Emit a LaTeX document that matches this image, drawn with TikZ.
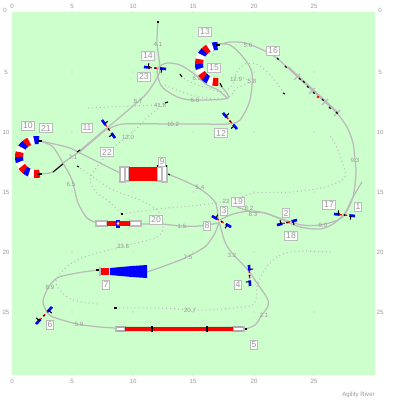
\documentclass[tikz,border=0pt]{standalone}
\usepackage{fontspec}
\setmainfont{Liberation Sans}
\usetikzlibrary{calc}
\definecolor{bg}{HTML}{CCFFCC}
\definecolor{trk}{HTML}{BBBBBB}
\definecolor{txtg}{HTML}{999999}
\tikzset{
 x=0.75pt,y=-0.75pt,
 track/.style={draw=trk,line width=0.95pt,line join=round},
 dots/.style={draw=trk,line width=0.8pt,dash pattern=on 0.75pt off 2.2pt},
 tag/.style={draw=trk,line width=0.8pt,fill=white,text=txtg,font=\fontsize{6.5}{6.5}\selectfont,minimum height=6.5pt,inner xsep=1pt,inner ysep=0.3pt},
 num/.style={text=txtg,font=\fontsize{4.6}{5}\selectfont,inner sep=0pt},
 axn/.style={text=txtg,font=\fontsize{4.6}{5}\selectfont,inner sep=0pt},
 tick/.style={black,line width=0.8pt},
 whitebox/.style={draw=trk,line width=0.8pt,fill=white},
}
\newcommand{\qmag}[4]{%
 \coordinate (qa) at (#1,#2); \coordinate (qb) at (#3,#4);
 \draw[red,line width=1pt,dash pattern=on 2pt off 2pt] (qa)--(qb);
 \draw[blue,line width=2pt] (qa)--($(qa)!0.27!(qb)$);
 \draw[blue,line width=2pt] (qb)--($(qb)!0.27!(qa)$);
 \draw[tick] ($(qa)!0.2!(qb)$)--($($(qa)!0.2!(qb)$)!3pt!90:(qb)$);
 \draw[tick] ($(qb)!0.2!(qa)$)--($($(qb)!0.2!(qa)$)!3pt!90:(qa)$);
 \fill[black] ($(qa)!0.5!(qb)$) circle (0.75pt);
}
\newcommand{\ringmag}[5]{%
 \foreach \i [evaluate=\i as \aa using {#4+(#5-#4)*\i/12},evaluate=\i as \ab using {#4+(#5-#4)*(\i+1.15)/12},
   evaluate=\i as \m using {int(mod(\i,3))}] in {0,...,11}{%
  \ifnum\m=0 \def\cc{blue}\else\ifnum\m=1 \def\cc{white}\else\def\cc{red}\fi\fi
  \draw[\cc,line width=6pt] ({#1+#3*cos(\aa)},{#2+#3*sin(\aa)})--({#1+#3*cos((\aa+\ab)/2)},{#2+#3*sin((\aa+\ab)/2)})--({#1+#3*cos(\ab)},{#2+#3*sin(\ab)});
 }}
\begin{document}
\begin{tikzpicture}
\useasboundingbox (0,0) rectangle (400,400);
\fill[white] (0,0) rectangle (400,400);
\fill[bg] (12,12) rectangle (375,375);
% grid marks
\foreach \x in {72,133,193,254,314}{
 \foreach \y in {72,132,192,252,312}{\fill[trk] (\x,\y) circle (0.4pt);}
 \fill[trk] (\x,12) circle (0.4pt); \fill[trk] (\x,375) circle (0.4pt);
}
% axes
\foreach \x/\t in {12/0,72/5,133/10,193/15,254/20,314/25}{
 \node[axn] (top\t) at (\x,6) {\t};
 \node[axn] (bot\t) at (\x,381) {\t};
}
\foreach \y/\t in {72/5,132/10,192/15,252/20,312/25}{
 \node[axn] (lef\t) at (6,\y) {\t};
 \node[axn] (rig\t) at (380,\y) {\t};
}
\node[axn] (rig0) at (380,10) {0};
\node[axn] (lef0) at (5,10) {0};
\node[axn,anchor=east] (agility) at (375,395) {Agility River};
% dotted tracks
\draw[dots] (88,108) -- (133,106) -- (157,105) -- (168,102);
\draw[dots] plot[smooth,tension=.6] coordinates {(168,102)(150,115)(133,132)(113,148)(97,167)(90,180)(97,193)(107,200)(122,214)};
\draw[dots] plot[smooth,tension=.6] coordinates {(122,214)(157,209)(200,205)(233,200)(255,193)(293,192)(325,187)(342,180)(345,172)(338,150)(330,135)};
\draw[dots] plot[smooth,tension=.6] coordinates {(77,166)(93,177)(113,190)(140,200)(157,210)(163,223)(157,237)(120,247)(77,260)(57,278)(60,290)(73,300)(98,304)};
\draw[dots] plot[smooth,tension=.6] coordinates {(115,308)(160,308)(200,310)(243,307)(255,302)(258,283)(270,263)(290,252)(333,252)};
\draw[dots] plot[smooth,tension=.6] coordinates {(181,76)(190,82)(207,88)(222,92)(232,85)(237,72)(245,64)(258,65)(272,77)(284,93)};
\draw[dots] plot[smooth,tension=.6] coordinates {(165,85)(185,93)(205,98)(227,98)(237,88)(248,83)(245,78)(237,78)};
% solid tracks
\draw[track] plot[smooth,tension=.5] coordinates {(245,329)(255,325)(262,315)(268,306)(267,298)(255,280)(248,270)(232,253)(225,242)(220,225)(219,222)};
\draw[track] plot[smooth,tension=.5] coordinates {(219,222)(218,225)(215,233)(207,245)(200,250)(185,258)(167,265)(147,272)};
\draw[track] plot[smooth,tension=.5] coordinates {(98,270)(77,273)(57,278)(47,290)(43,302)(47,312)(53,317)(77,324)(100,327)(116,328)};
\draw[track] plot[smooth,tension=.5] coordinates {(220,220)(233,214)(250,211)(265,213)(282,219)(302,225)(320,225)(338,220)(345,214)(353,197)(356,173)(355,160)(353,143)(347,127)(337,113)};
\draw[track] (337,113)--(277,58);
\draw[track,line width=1.5pt] (288,67)--(338,113);
\foreach \x/\y in {297/77,312/91,325/102,337/113}{\draw[track] (\x-3,\y+3)--(\x+3,\y-3);}
\draw[track] plot[smooth,tension=.5] coordinates {(277,58)(263,50)(245,43)(230,42)(218,45)};
\draw[track] plot[smooth,tension=.5] coordinates {(237,207)(252,212)(265,213)(283,220)(300,227)(320,229)(333,224)(345,213)(353,197)(362,182)};
\draw[track] plot[smooth,tension=.5] coordinates {(168,174)(197,187)(215,202)(218,220)};
\draw[track] plot[smooth,tension=.5] coordinates {(218,223)(200,226)(180,226)(162,224)(142,224)};
\draw[track] plot[smooth,tension=.5] coordinates {(97,223)(87,218)(80,207)(77,200)(72,180)(63,163)(53,147)(43,142)(40,141)};
\draw[track] plot[smooth,tension=.5] coordinates {(40,141)(67,147)(80,153)(120,173)};
\draw[track] plot[smooth,tension=.5] coordinates {(40,174)(53,172)(63,163)(77,153)(107,128)(133,106)(147,93)(157,78)(160,68)(157,43)(158,22)};
\draw[track,line width=1.5pt] (78,153)--(106,129);
\draw[track] plot[smooth,tension=.5] coordinates {(107,130)(123,124)(170,124)(200,124)(228,124)(240,120)(250,100)(252,73)(243,57)(230,45)(218,44)};
\draw[track] plot[smooth,tension=.5] coordinates {(220,85)(228,98)(198,100)(180,98)(163,88)(158,77)(158,68)(167,63)(180,65)(193,73)(207,85)(218,90)(227,98)};
% labels along the tracks
\foreach \n/\x/\y/\t in {a/158/44/4.1,b/138/101/8.7,c/160/105/41.6,d/173/124/10.2,e/128/137/13.0,f/73/157/7.1,g/71/184/6.5,
 h/197/78/6.2,i/195/100/6.6,j/236/79/12.9,k/252/81/5.8,l/248/45/5.6,m/355/160/9.3,n/264/315/2.1,o/232/255/3.2,p/253/214/8.3,
 q/249/208/8.2,r/323/225/9.0,s/200/187/5.4,t/182/226/1.5,u/188/257/7.5,v/123/246/23.8,w/190/310/20.7,x/50/287/8.9,y/79/324/5.9,z/226/201/22}
 {\node[num] (len\n) at (\x,\y) {\t};}
% magnet 9
\draw[whitebox] (120,167) rectangle (125,182);
\draw[whitebox] (125,167) rectangle (129,181);
\draw[whitebox] (157,167) rectangle (162,181);
\draw[whitebox] (162,166) rectangle (167,182);
\fill[red] (129,167) rectangle (157,181);
\draw[tick] (157,166)--(167,166);
% magnet 20
\draw[whitebox] (96,221) rectangle (107,226);
\draw[whitebox] (130,221) rectangle (141,226);
\fill[red] (107,221) rectangle (130,226);
\fill[blue] (116,220) rectangle (120,228);
\fill[red] (117,221) rectangle (120,226);
\fill[white] (118,223.5) circle (1pt);
% magnet 7
\fill[trk] (99,267) rectangle (101,276);
\fill[red] (101,268) rectangle (109,275);
\fill[blue] (110,268)--(132,266)--(147,265)--(147,278)--(132,277)--(110,275)--cycle;
\draw[tick] (96,270)--(99,270);
% magnet 5
\draw[whitebox] (116,327) rectangle (125,331);
\draw[whitebox] (233,327) rectangle (244,331);
\fill[red] (125,327) rectangle (233,331);
\foreach \x in {118,120,...,124,126,128,...,150,209,211,...,232,234,236,...,243}{\fill[black] (\x,327) circle (.3pt);\fill[black] (\x,331) circle (.3pt);}
\draw[tick] (152,326)--(152,332);
\draw[tick] (207,326)--(207,332);
\draw[tick] (245,329)--(247,329);
% rings
\ringmag{217}{64}{18}{272}{88}
\ringmag{36}{157}{17}{280}{80}
\draw[tick] (216,45)--(220,45);
\draw[tick] (220,83)--(222,87);
\draw[tick] (38,141)--(42,141);
\draw[tick] (38,174)--(42,174);
% quadrupole pairs
\qmag{102}{120}{115}{138}
\qmag{144}{67}{166}{69}
\qmag{223}{113}{237}{129}
\qmag{36}{324}{52}{307}
\qmag{249}{265}{250}{286}
\qmag{212}{216}{231}{227}
\qmag{277}{225}{297}{220}
\qmag{334}{214}{355}{216}
% short black marks
\draw[tick] (158,21)--(158,23);
\draw[tick] (283,93)--(285,94);
\draw[tick] (165,103)--(168,102);
\draw[tick] (121,214)--(123,214);
\draw[tick] (114,308)--(117,308);
\draw[tick] (180,74)--(182,77);
\draw[tick] (53,172)--(63,164);
\draw[tick] (77,152)--(80,150);
\draw[tick] (77,166)--(79,167);
\draw[tick] (168,174)--(170,175);
\foreach \x/\y in {277/58,285/66,299/78,303/81,307/86,313/92,322/99,329/107,336/112}{\draw[tick] (\x,\y)--(\x+1.5,\y+1.5);}
\fill[red] (318,97) circle (1pt);
% boxed names
\foreach \n/\x/\y in {1/358/207,2/286/213,3/224/211,4/238/285,5/254/345,6/50/325,7/106/285,8/207/226,9/162/162,10/28/126,11/87/128,12/221/133,13/205/32,14/148/56,15/214/68,16/273/51,17/329/205,18/291/236,19/238/202,20/156/220,21/46/128,22/107/152,23/144/77}
 {\node[tag] (name\n) at (\x,\y) {\n};}
\end{tikzpicture}
\end{document}
